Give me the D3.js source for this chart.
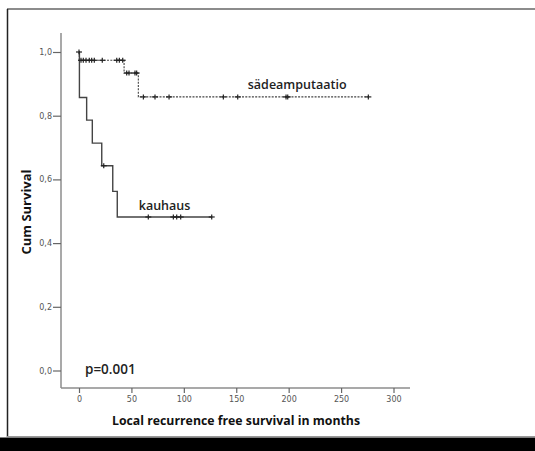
<!DOCTYPE html>
<html><head><meta charset="utf-8">
<script src="https://cdn.jsdelivr.net/npm/d3@7"></script>
<style>html,body{margin:0;padding:0;background:#fff;overflow:hidden;width:535px;height:451px}svg{display:block;position:fixed;left:0;top:0}</style>
</head><body>
<script>
// ---- data ----
const xTicks = [0, 50, 100, 150, 200, 250, 300];
const yTicks = [0, 0.2, 0.4, 0.6, 0.8, 1.0];
const yTickLabels = ["0,0", "0,2", "0,4", "0,6", "0,8", "1,0"];
// step curves: [time, survival after step]
const sadeSteps = [[0, 1.0], [0.3, 0.974], [43, 0.934], [56.6, 0.859]];
const sadeEnd = 276;
const sadeCensor = [0, 1.9, 4.1, 6.7, 9.8, 12.1, 14.6, 22.2, 36, 38.5, 41.7, 45.5, 47.7, 53.4, 55, 61.4, 72.5, 85.9, 137.7, 151.4, 197.5, 199.1, 276];
const kauSteps = [[0, 1.0], [0.4, 0.857], [7.3, 0.786], [12.7, 0.714], [21.7, 0.643], [32.2, 0.5625], [36.5, 0.482]];
const kauEnd = 127;
const kauCensor = [23.6, 66.1, 90, 93.2, 97, 126.6];
const labels = [{text: "sädeamputaatio", t: 161, s: 0.883}, {text: "kauhaus", t: 57, s: 0.505}];

const W = 535, H = 451;
const svg = d3.select("body").append("svg").attr("width", W).attr("height", H);

// frame
svg.append("rect").attr("x", 0).attr("y", 0).attr("width", W).attr("height", H).attr("fill", "#fff");
svg.append("line").attr("x1", 7).attr("x2", W).attr("y1", 9).attr("y2", 9).attr("stroke", "#666").attr("stroke-width", 1.5);
svg.append("line").attr("x1", 7.5).attr("x2", 7.5).attr("y1", 9).attr("y2", 437).attr("stroke", "#222").attr("stroke-width", 1.5);
svg.append("line").attr("x1", 7).attr("x2", W).attr("y1", 436.5).attr("y2", 436.5).attr("stroke", "#999").attr("stroke-width", 1.2);
svg.append("rect").attr("x", 0).attr("y", 437.5).attr("width", W).attr("height", 14).attr("fill", "#000");

const plotL = 61, plotR = 410, plotT = 33, plotB = 388;
const x = d3.scaleLinear().domain([0, 300]).range([79, 393.5]);
const y = d3.scaleLinear().domain([0, 1]).range([370.5, 52]);

const axisCol = "#8c8c8c";
svg.append("line").attr("x1", plotL).attr("x2", plotL).attr("y1", plotT).attr("y2", plotB).attr("stroke", axisCol).attr("stroke-width", 1.5);
svg.append("line").attr("x1", plotL).attr("x2", plotR).attr("y1", plotB).attr("y2", plotB).attr("stroke", axisCol).attr("stroke-width", 1.5);

const yAxis = svg.append("g").attr("transform", `translate(${plotL},0)`)
  .call(d3.axisLeft(y).tickValues(yTicks).tickFormat((d, i) => yTickLabels[i]).tickSize(8).tickPadding(1));
yAxis.select(".domain").remove();
yAxis.selectAll("line").attr("stroke", "#666").attr("stroke-width", 1.2);
yAxis.selectAll("text").attr("font-family", "DejaVu Sans").attr("font-size", 8).attr("fill", "#555");

const xAxis = svg.append("g").attr("transform", `translate(0,${plotB})`)
  .call(d3.axisBottom(x).tickValues(xTicks).tickSize(5).tickPadding(3));
xAxis.select(".domain").remove();
xAxis.selectAll("line").attr("stroke", "#666").attr("stroke-width", 1.2);
xAxis.selectAll("text").attr("font-family", "DejaVu Sans").attr("font-size", 8).attr("fill", "#555");

// titles
svg.append("text").attr("x", 236).attr("y", 425).attr("text-anchor", "middle")
  .attr("font-family", "Open Sans").attr("font-weight", "bold").attr("font-size", 12.3).attr("fill", "#111")
  .text("Local recurrence free survival in months");
svg.append("text").attr("transform", "translate(31,212) rotate(-90)").attr("text-anchor", "middle")
  .attr("font-family", "Open Sans").attr("font-weight", "bold").attr("font-size", 13).attr("fill", "#111")
  .text("Cum Survival");
svg.append("text").attr("x", 85).attr("y", 374)
  .attr("font-family", "Open Sans").attr("font-weight", "600").attr("font-size", 13.5).attr("fill", "#222")
  .text("p=0.001");

function stepPath(steps, end) {
  const pts = [];
  steps.forEach((s, i) => {
    if (i > 0) pts.push([s[0], steps[i - 1][1]]);
    pts.push([s[0], s[1]]);
  });
  pts.push([end, steps[steps.length - 1][1]]);
  return d3.line().x(d => x(d[0])).y(d => y(d[1]))(pts);
}
function survAt(steps, t) {
  let s = 1;
  steps.forEach(p => { if (p[0] <= t) s = p[1]; });
  return s;
}

svg.append("path").attr("d", stepPath(kauSteps, kauEnd)).attr("fill", "none").attr("stroke", "#444").attr("stroke-width", 1.4);
svg.append("path").attr("d", stepPath(sadeSteps, sadeEnd)).attr("fill", "none").attr("stroke", "#444").attr("stroke-width", 1.1).attr("stroke-dasharray", "2,1.3");

function censor(list, steps) {
  const g = svg.append("g").attr("stroke", "#222").attr("stroke-width", 1.2);
  list.forEach(t => {
    const s = t === 0 ? 1 : survAt(steps, t);
    const cx = x(t), cy = y(s);
    g.append("line").attr("x1", cx - 3).attr("x2", cx + 3).attr("y1", cy).attr("y2", cy);
    g.append("line").attr("x1", cx).attr("x2", cx).attr("y1", cy - 2.5).attr("y2", cy + 2.5);
  });
}
censor(sadeCensor, sadeSteps);
censor(kauCensor, kauSteps);

labels.forEach(l => {
  svg.append("text").attr("x", x(l.t)).attr("y", y(l.s))
    .attr("font-family", "Open Sans").attr("font-weight", "600").attr("font-size", 12.5).attr("fill", "#222")
    .text(l.text);
});
</script>
</body></html>
